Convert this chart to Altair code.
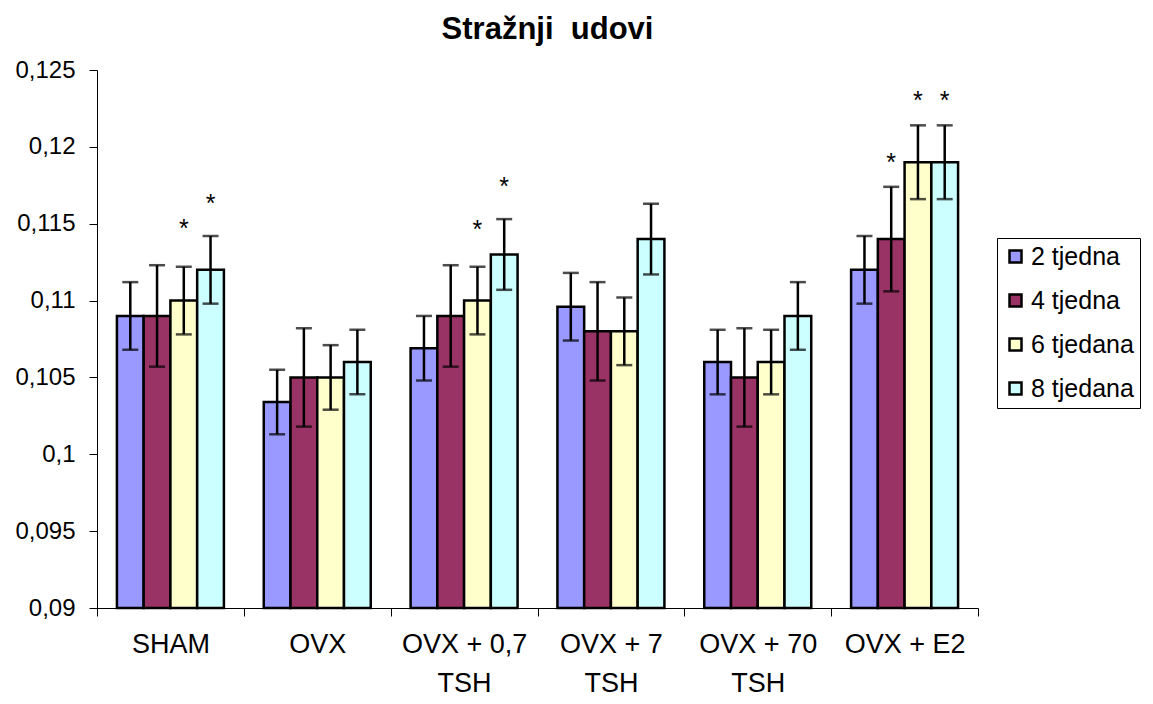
import altair as alt
import pandas as pd

groups = ["SHAM", "OVX", "OVX + 0,7|TSH", "OVX + 7|TSH", "OVX + 70|TSH", "OVX + E2"]
series = ["2 tjedna", "4 tjedna", "6 tjedana", "8 tjedana"]
colors = ["#9999FF", "#993366", "#FFFFCC", "#CCFFFF"]

means = {
    "2 tjedna":  [0.1090, 0.1034, 0.1069, 0.1096, 0.1060, 0.1120],
    "4 tjedna":  [0.1090, 0.1050, 0.1090, 0.1080, 0.1050, 0.1140],
    "6 tjedana": [0.1100, 0.1050, 0.1100, 0.1080, 0.1060, 0.1190],
    "8 tjedana": [0.1120, 0.1060, 0.1130, 0.1140, 0.1090, 0.1190],
}
errors = {
    "2 tjedna":  [0.0022, 0.0021, 0.0021, 0.0022, 0.0021, 0.0022],
    "4 tjedna":  [0.0033, 0.0032, 0.0033, 0.0032, 0.0032, 0.0034],
    "6 tjedana": [0.0022, 0.0021, 0.0022, 0.0022, 0.0021, 0.0024],
    "8 tjedana": [0.0022, 0.0021, 0.0023, 0.0023, 0.0022, 0.0024],
}
star_group = ["SHAM", "SHAM", "OVX + 0,7|TSH", "OVX + 0,7|TSH", "OVX + E2", "OVX + E2", "OVX + E2"]
star_series = ["6 tjedana", "8 tjedana", "6 tjedana", "8 tjedana", "4 tjedna", "6 tjedana", "8 tjedana"]
star_level = [0.1150, 0.1166, 0.1149, 0.1177, 0.1193, 0.1233, 0.1233]

y_ticks = [round(0.09 + 0.005 * i, 3) for i in range(8)]

rows = []
for s in series:
    for g, m, e in zip(groups, means[s], errors[s]):
        rows.append({"group": g, "series": s, "mean": m, "lo": m - e, "hi": m + e})
df = pd.DataFrame(rows)
stars = pd.DataFrame({"group": star_group, "series": star_series, "level": star_level, "txt": ["*"] * len(star_level)})

W, H = 881, 538
FONT = "Liberation Sans"

xenc = alt.X("group:N", sort=groups, title=None,
             scale=alt.Scale(paddingInner=0, paddingOuter=0),
             axis=alt.Axis(labelExpr="split(datum.label, '|')", labelAngle=0,
                           tickBand="extent", tickSize=8, tickColor="black",
                           domainColor="black", labelFont=FONT,
                           labelFontSize=27, labelColor="black", labelPadding=15,
                           labelLineHeight=39, labelBaseline="top"))
xoff = alt.XOffset("series:N", sort=series, scale=alt.Scale(paddingInner=0, paddingOuter=0.745))
yscale = alt.Scale(domain=[0.09, 0.125], nice=False, zero=False)

bars = alt.Chart(df).mark_bar(stroke="black", strokeWidth=2.5).encode(
    x=xenc,
    xOffset=xoff,
    y=alt.Y("mean:Q", scale=yscale, title=None,
            axis=alt.Axis(values=y_ticks, grid=False,
                          labelExpr="replace(format(datum.value, '~g'), '.', ',')",
                          tickSize=8, tickColor="black", domainColor="black",
                          labelFont=FONT, labelFontSize=24, labelColor="black",
                          labelPadding=14)),
    y2=alt.datum(0.09),
    fill=alt.Fill("series:N", sort=series, scale=alt.Scale(domain=series, range=colors),
                  legend=alt.Legend(title=None, orient="none", legendX=900, legendY=168,
                                    symbolType="square", symbolSize=144,
                                    symbolStrokeColor="black", symbolStrokeWidth=2.5,
                                    labelFont=FONT, labelFontSize=25, labelColor="black",
                                    rowPadding=18, labelOffset=3,
                                    strokeColor="black", padding=6, fillColor="white")),
)

rules = alt.Chart(df).mark_rule(color="black", strokeWidth=2.5).encode(
    x=alt.X("group:N", sort=groups), xOffset=xoff,
    y=alt.Y("lo:Q", scale=yscale), y2="hi:Q")

caps_lo = alt.Chart(df).mark_tick(color="black", thickness=2.5, size=16).encode(
    x=alt.X("group:N", sort=groups), xOffset=xoff, y=alt.Y("lo:Q", scale=yscale))
caps_hi = alt.Chart(df).mark_tick(color="black", thickness=2.5, size=16).encode(
    x=alt.X("group:N", sort=groups), xOffset=xoff, y=alt.Y("hi:Q", scale=yscale))

star_marks = alt.Chart(stars).mark_text(font=FONT, fontSize=25, color="black",
                                         baseline="alphabetic", dy=13).encode(
    x=alt.X("group:N", sort=groups), xOffset=alt.XOffset("series:N", sort=series,
                                                          scale=alt.Scale(domain=series, paddingInner=0, paddingOuter=0.745)),
    y=alt.Y("level:Q", scale=yscale), text="txt:N")

chart = alt.layer(bars, rules, caps_lo, caps_hi, star_marks).properties(
    width=W, height=H,
    title=alt.Title("Stražnji\u00a0 udovi", font=FONT, fontSize=31, fontWeight="bold",
                    color="black", anchor="middle", dx=10, offset=12),
    autosize=alt.AutoSizeParams(type="none"),
    padding={"left": 89, "top": 62, "right": 167, "bottom": 88},
).configure_view(stroke=None).configure_axis(grid=False)

chart.save("out.html", embed_options={"renderer": "svg", "actions": False})
